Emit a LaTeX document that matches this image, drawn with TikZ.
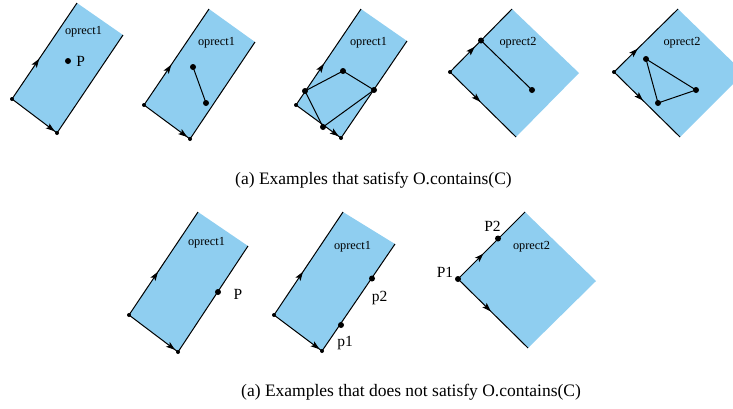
\documentclass[tikz,border=0pt]{standalone}
\usepackage{fontspec}
\setmainfont{Liberation Serif}
\usetikzlibrary{arrows.meta,decorations.markings}
\definecolor{rectblue}{RGB}{143,206,240}
\tikzset{
  rectfill/.style={fill=rectblue,draw=none},
  edge/.style={draw=black,line width=1pt,line join=round},
  midarrow/.style={postaction={decorate},decoration={markings,
     mark=at position #1 with {\arrow{Stealth[length=9pt,width=6pt,inset=2pt]}}}},
  bigdot/.style={circle,fill=black,inner sep=0pt,minimum size=6pt},
  smalldot/.style={circle,fill=black,inner sep=0pt,minimum size=4pt},
  rectlabel/.style={font=\fontsize{12.3}{14}\selectfont,inner sep=0pt},
  ptlabel/.style={font=\fontsize{15.5}{18}\selectfont,inner sep=0pt},
  caption/.style={font=\fontsize{17.5}{20}\selectfont,inner sep=0pt,anchor=west},
}
\begin{document}
\begin{tikzpicture}[x=1pt,y=-1pt]
\useasboundingbox (0,0) rectangle (733,408);
\clip (0,0) rectangle (733,408);
% ---------- Rect 1 ----------
\coordinate (o1) at (12,99); \coordinate (b1) at (57,133);
\coordinate (r1) at (123,35); \coordinate (t1) at (77,3);
\fill[rectfill] (o1) -- (b1) -- (r1) -- (t1) -- cycle;
\draw[edge,midarrow=0.42] (o1) -- (t1);
\draw[edge,midarrow=0.95] (o1) -- (b1);
\draw[edge] (b1) -- (r1);
\node[smalldot] (o1d) at (o1) {};
\node[smalldot] (b1d) at (b1) {};
\node[rectlabel] (l1) at (83.5,32) {oprect1};
\node[bigdot] (p1a) at (68,61) {};
\node[ptlabel] (p1al) at (80.7,61) {P};
% ---------- Rect 2 ----------
\coordinate (o2) at (144,105); \coordinate (b2) at (190,139);
\coordinate (r2) at (255,42); \coordinate (t2) at (209,9);
\fill[rectfill] (o2) -- (b2) -- (r2) -- (t2) -- cycle;
\draw[edge,midarrow=0.42] (o2) -- (t2);
\draw[edge,midarrow=0.94] (o2) -- (b2);
\draw[edge] (b2) -- (r2);
\node[smalldot] (o2d) at (o2) {};
\node[smalldot] (b2d) at (b2) {};
\node[rectlabel] (l2) at (216.5,43) {oprect1};
\coordinate (s2a) at (193,67); \coordinate (s2b) at (206,103);
\draw[edge] (s2a) -- (s2b);
\node[bigdot] (s2ad) at (s2a) {};
\node[bigdot] (s2bd) at (s2b) {};
% ---------- Rect 3 ----------
\coordinate (o3) at (296,105); \coordinate (b3) at (341,138);
\coordinate (r3) at (407,41); \coordinate (t3) at (361,9);
\fill[rectfill] (o3) -- (b3) -- (r3) -- (t3) -- cycle;
\draw[edge,midarrow=0.43] (o3) -- (t3);
\draw[edge,midarrow=0.95] (o3) -- (b3);
\draw[edge] (b3) -- (r3);
\node[smalldot] (o3d) at (o3) {};
\node[smalldot] (b3d) at (b3) {};
\node[rectlabel] (l3) at (368.5,43) {oprect1};
\coordinate (q1) at (305,91); \coordinate (q2) at (343,71);
\coordinate (q3) at (374,90); \coordinate (q4) at (323,127);
\draw[edge] (q1) -- (q2) -- (q3) -- (q4) -- cycle;
\foreach \q in {q1,q2,q3,q4} {\node[bigdot] (\q d) at (\q) {};}
% ---------- Rect 4 ----------
\coordinate (o4) at (450,72); \coordinate (b4) at (516,137);
\coordinate (r4) at (579,73); \coordinate (t4) at (512,9);
\fill[rectfill] (o4) -- (b4) -- (r4) -- (t4) -- cycle;
\draw[edge,midarrow=0.40] (o4) -- (t4);
\draw[edge,midarrow=0.46] (o4) -- (b4);
\node[smalldot] (o4d) at (o4) {};
\node[rectlabel] (l4) at (518,43) {oprect2};
\coordinate (s4a) at (481,40.5); \coordinate (s4b) at (532,90);
\draw[edge] (s4a) -- (s4b);
\node[bigdot] (s4ad) at (s4a) {};
\node[bigdot] (s4bd) at (s4b) {};
% ---------- Rect 5 ----------
\coordinate (o5) at (614,72); \coordinate (b5) at (680,137);
\coordinate (r5) at (744,73); \coordinate (t5) at (678,9);
\fill[rectfill] (o5) -- (b5) -- (r5) -- (t5) -- cycle;
\draw[edge,midarrow=0.37] (o5) -- (t5);
\draw[edge,midarrow=0.44] (o5) -- (b5);
\node[smalldot] (o5d) at (o5) {};
\node[rectlabel] (l5) at (682,43) {oprect2};
\coordinate (g1) at (646,59); \coordinate (g2) at (696,90); \coordinate (g3) at (658,103);
\draw[edge] (g1) -- (g2) -- (g3) -- cycle;
\foreach \g in {g1,g2,g3} {\node[bigdot] (\g d) at (\g) {};}
% ---------- Caption 1 ----------
\node[caption] (cap1) at (235,180) {(a) Examples that satisfy O.contains(C)};
% ---------- Rect 6 ----------
\coordinate (o6) at (129,315); \coordinate (b6) at (178,352);
\coordinate (r6) at (248,246); \coordinate (t6) at (198,212);
\fill[rectfill] (o6) -- (b6) -- (r6) -- (t6) -- cycle;
\draw[edge,midarrow=0.42] (o6) -- (t6);
\draw[edge,midarrow=0.94] (o6) -- (b6);
\draw[edge] (b6) -- (r6);
\node[smalldot] (o6d) at (o6) {};
\node[smalldot] (b6d) at (b6) {};
\node[rectlabel] (l6) at (206.5,243) {oprect1};
\node[bigdot] (p6) at (218,292) {};
\node[ptlabel] (p6l) at (238,294) {P};
% ---------- Rect 7 ----------
\coordinate (o7) at (274,315); \coordinate (b7) at (322,351);
\coordinate (r7) at (395,244); \coordinate (t7) at (343,212);
\fill[rectfill] (o7) -- (b7) -- (r7) -- (t7) -- cycle;
\draw[edge,midarrow=0.42] (o7) -- (t7);
\draw[edge,midarrow=0.95] (o7) -- (b7);
\draw[edge] (b7) -- (r7);
\node[smalldot] (o7d) at (o7) {};
\node[smalldot] (b7d) at (b7) {};
\node[rectlabel] (l7) at (352.5,246.7) {oprect1};
\node[bigdot] (p7b) at (372,278.5) {};
\node[ptlabel] (p7bl) at (379.5,298) {p2};
\node[bigdot] (p7a) at (341,325) {};
\node[ptlabel] (p7al) at (345,343) {p1};
% ---------- Rect 8 ----------
\coordinate (o8) at (458,279); \coordinate (b8) at (528,348);
\coordinate (r8) at (596,281); \coordinate (t8) at (525,212);
\fill[rectfill] (o8) -- (b8) -- (r8) -- (t8) -- cycle;
\draw[edge,midarrow=0.38] (o8) -- (t8);
\draw[edge,midarrow=0.47] (o8) -- (b8);
\node[rectlabel] (l8) at (531.5,246.7) {oprect2};
\node[bigdot] (P1d) at (o8) {};
\node[bigdot] (P2d) at (498,238.5) {};
\node[ptlabel] (P1l) at (445,272.7) {P1};
\node[ptlabel] (P2l) at (492.5,226) {P2};
% ---------- Caption 2 ----------
\node[caption] (cap2) at (241,392) {(a) Examples that does not satisfy O.contains(C)};
\end{tikzpicture}
\end{document}
